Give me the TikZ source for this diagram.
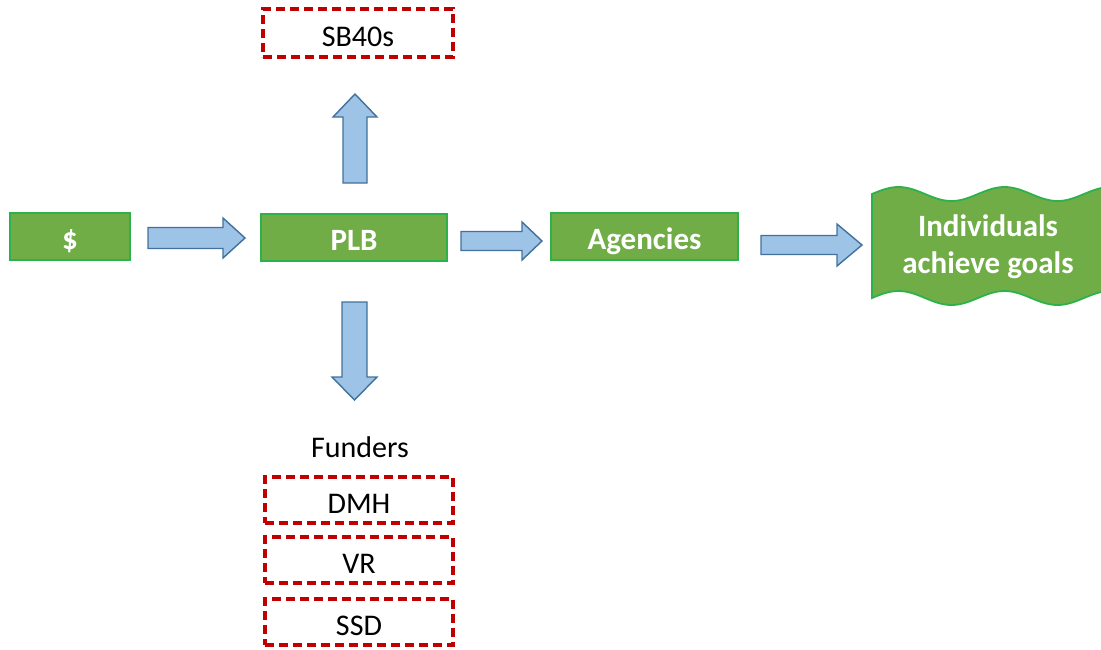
\documentclass[tikz,border=0pt]{standalone}
\usepackage{fontspec}
\setmainfont{Carlito}
\usetikzlibrary{calc}
\definecolor{gfill}{HTML}{70AD47}
\definecolor{gline}{HTML}{2DB24B}
\definecolor{afill}{HTML}{9DC3E6}
\definecolor{aline}{HTML}{41719C}
\definecolor{dred}{HTML}{C00000}
\newcommand\blockarrow[5]{% start, end, shaft half, head half, head length
  \coordinate (tmpb) at ($(#2)!#5!(#1)$);
  \draw[barrow] ($(#1)!#3!90:(#2)$) -- ($(tmpb)!#3!-90:(#1)$) -- ($(tmpb)!#4!-90:(#1)$)
    -- (#2) -- ($(tmpb)!#4!90:(#1)$) -- ($(tmpb)!#3!90:(#1)$) -- ($(#1)!#3!-90:(#2)$) -- cycle;
}
\begin{document}
\begin{tikzpicture}[x=1pt,y=-1pt,
  gbox/.style={draw=gline, fill=gfill, line width=1.8pt, text=white,
    font=\fontsize{31}{31}\selectfont\bfseries, inner sep=0pt,
    minimum height=47pt, text height=25pt, text depth=0pt},
  rbox/.style={draw=dred, line width=3.2pt, dash pattern=on 9pt off 5pt,
    minimum width=188pt, minimum height=46pt, inner sep=0pt,
    font=\fontsize{30}{30}\selectfont, text height=26pt, text depth=0pt},
  barrow/.style={fill=afill, draw=aline, line width=1.4pt, line join=miter},
  wave/.style={fill=gfill, draw=gline, line width=1.8pt}]
\useasboundingbox (0,0) rectangle (1101,649);

% green boxes
\node[gbox, minimum width=120pt] (dollar) at (70,236.5) {\$};
\node[gbox, minimum width=186pt] (plb) at (354,237.5) {PLB};
\node[gbox, minimum width=187pt] (agencies) at (644.5,236.5) {Agencies};

% wave shape
\draw[wave] plot[domain=0:232, samples=80, smooth] ({\x+872}, {194-7*sin(\x*3.3962)})
  -- plot[domain=232:0, samples=80, smooth] ({\x+872}, {298-7*sin(\x*3.3962)}) -- cycle;
\node[text=white, font=\fontsize{31}{37}\selectfont\bfseries, align=center, inner sep=0pt]
  (ind) at (988,247) {Individuals\\achieve goals};

% dashed boxes
\node[rbox, minimum width=190pt, minimum height=48pt] (sb) at (358,33) {SB40s};
\node[anchor=base, font=\fontsize{30}{30}\selectfont, inner sep=0pt] (funders) at (360,457) {Funders};
\node[rbox] (dmh) at (359,500) {DMH};
\node[rbox] (vr) at (359,560) {VR};
\node[rbox] (ssd) at (359,622) {SSD};

% block arrows
\coordinate (a1s) at (148,238);  \coordinate (a1e) at (245,238);
\coordinate (a2s) at (461,241);  \coordinate (a2e) at (542,241);
\coordinate (a3s) at (761,245);  \coordinate (a3e) at (862,245);
\coordinate (aus) at (355,183);  \coordinate (aue) at (355,94);
\coordinate (ads) at (354.5,302); \coordinate (ade) at (354.5,400);
\blockarrow{a1s}{a1e}{10.5pt}{20pt}{22pt}
\blockarrow{a2s}{a2e}{9.5pt}{19pt}{20pt}
\blockarrow{a3s}{a3e}{9.5pt}{21pt}{25pt}
\blockarrow{aus}{aue}{12pt}{22pt}{23pt}
\blockarrow{ads}{ade}{12.5pt}{22.5pt}{23pt}
\end{tikzpicture}
\end{document}
